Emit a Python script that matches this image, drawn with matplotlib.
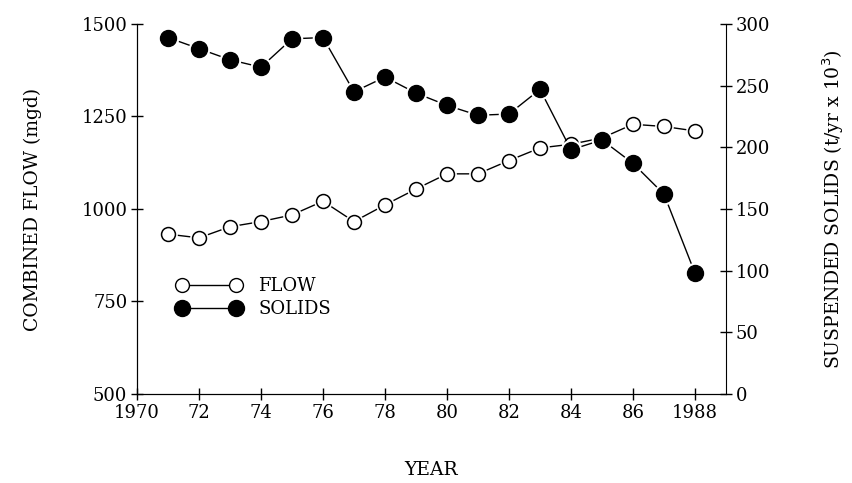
import matplotlib.pyplot as plt
from matplotlib.lines import Line2D

# data
years = list(range(1971, 1989))
flow = [932, 922, 952, 966, 984, 1021, 966, 1011, 1054, 1095, 1095, 1131, 1165, 1175,
        1192, 1229, 1223, 1211]
solids = [289, 280, 271, 265, 288, 289, 245, 257, 244, 234, 226, 227, 247, 198,
          206, 187, 162, 98]

plt.rcParams['font.family'] = ['DejaVu Serif']
plt.rcParams['font.size'] = 13

fig = plt.figure(figsize=(8.53, 4.83), dpi=100)
ax = fig.add_axes([0.1606, 0.1843, 0.6905, 0.766])
ax2 = ax.twinx()

# flow, open circles on left axis
ax.plot(years, flow, color='black', lw=1.0, zorder=1)
ax.plot(years, flow, 'o', ms=13.5, mfc='white', mec='white', mew=0, zorder=2)
ax.plot(years, flow, 'o', ms=10, mfc='white', mec='black', mew=1.1, zorder=3)

# solids, filled circles on right axis
ax2.plot(years, solids, color='black', lw=1.0, zorder=1)
ax2.plot(years, solids, 'o', ms=15.5, mfc='white', mec='white', mew=0, zorder=2)
ax2.plot(years, solids, 'o', ms=11.5, mfc='black', mec='black', zorder=3)

ax.set_xlim(1970, 1989)
ax.set_ylim(500, 1500)
ax2.set_ylim(0, 300)

ax.set_xticks(range(1970, 1989, 2))
ax.set_xticklabels(['1970', '72', '74', '76', '78', '80', '82', '84', '86', '1988'])
ax.set_yticks([500, 750, 1000, 1250, 1500])
ax2.set_yticks([0, 50, 100, 150, 200, 250, 300])

for a in (ax, ax2):
    a.spines['top'].set_visible(False)
    a.tick_params(direction='inout', length=8, width=1, labelsize=13, pad=3)
ax.spines['right'].set_visible(False)

ax.set_ylabel('COMBINED FLOW (mgd)', fontsize=13.5, labelpad=28)
ax2.set_ylabel('SUSPENDED SOLIDS (t/yr x 10$^3$)', fontsize=13.5, labelpad=36)
ax.set_xlabel('YEAR', fontsize=13.5, labelpad=28)

handles = [
    Line2D([], [], color='black', lw=1.0, marker='o', ms=10, mfc='white', mec='black'),
    Line2D([], [], color='black', lw=1.0, marker='o', ms=11.5, mfc='black', mec='black'),
]
ax.legend(handles, ['FLOW', 'SOLIDS'], loc='upper left', bbox_to_anchor=(0.04, 0.36),
          numpoints=2, handlelength=3.6, frameon=False, fontsize=13,
          labelspacing=0.3, handletextpad=0.9)

fig.savefig('out.png', dpi=100)
